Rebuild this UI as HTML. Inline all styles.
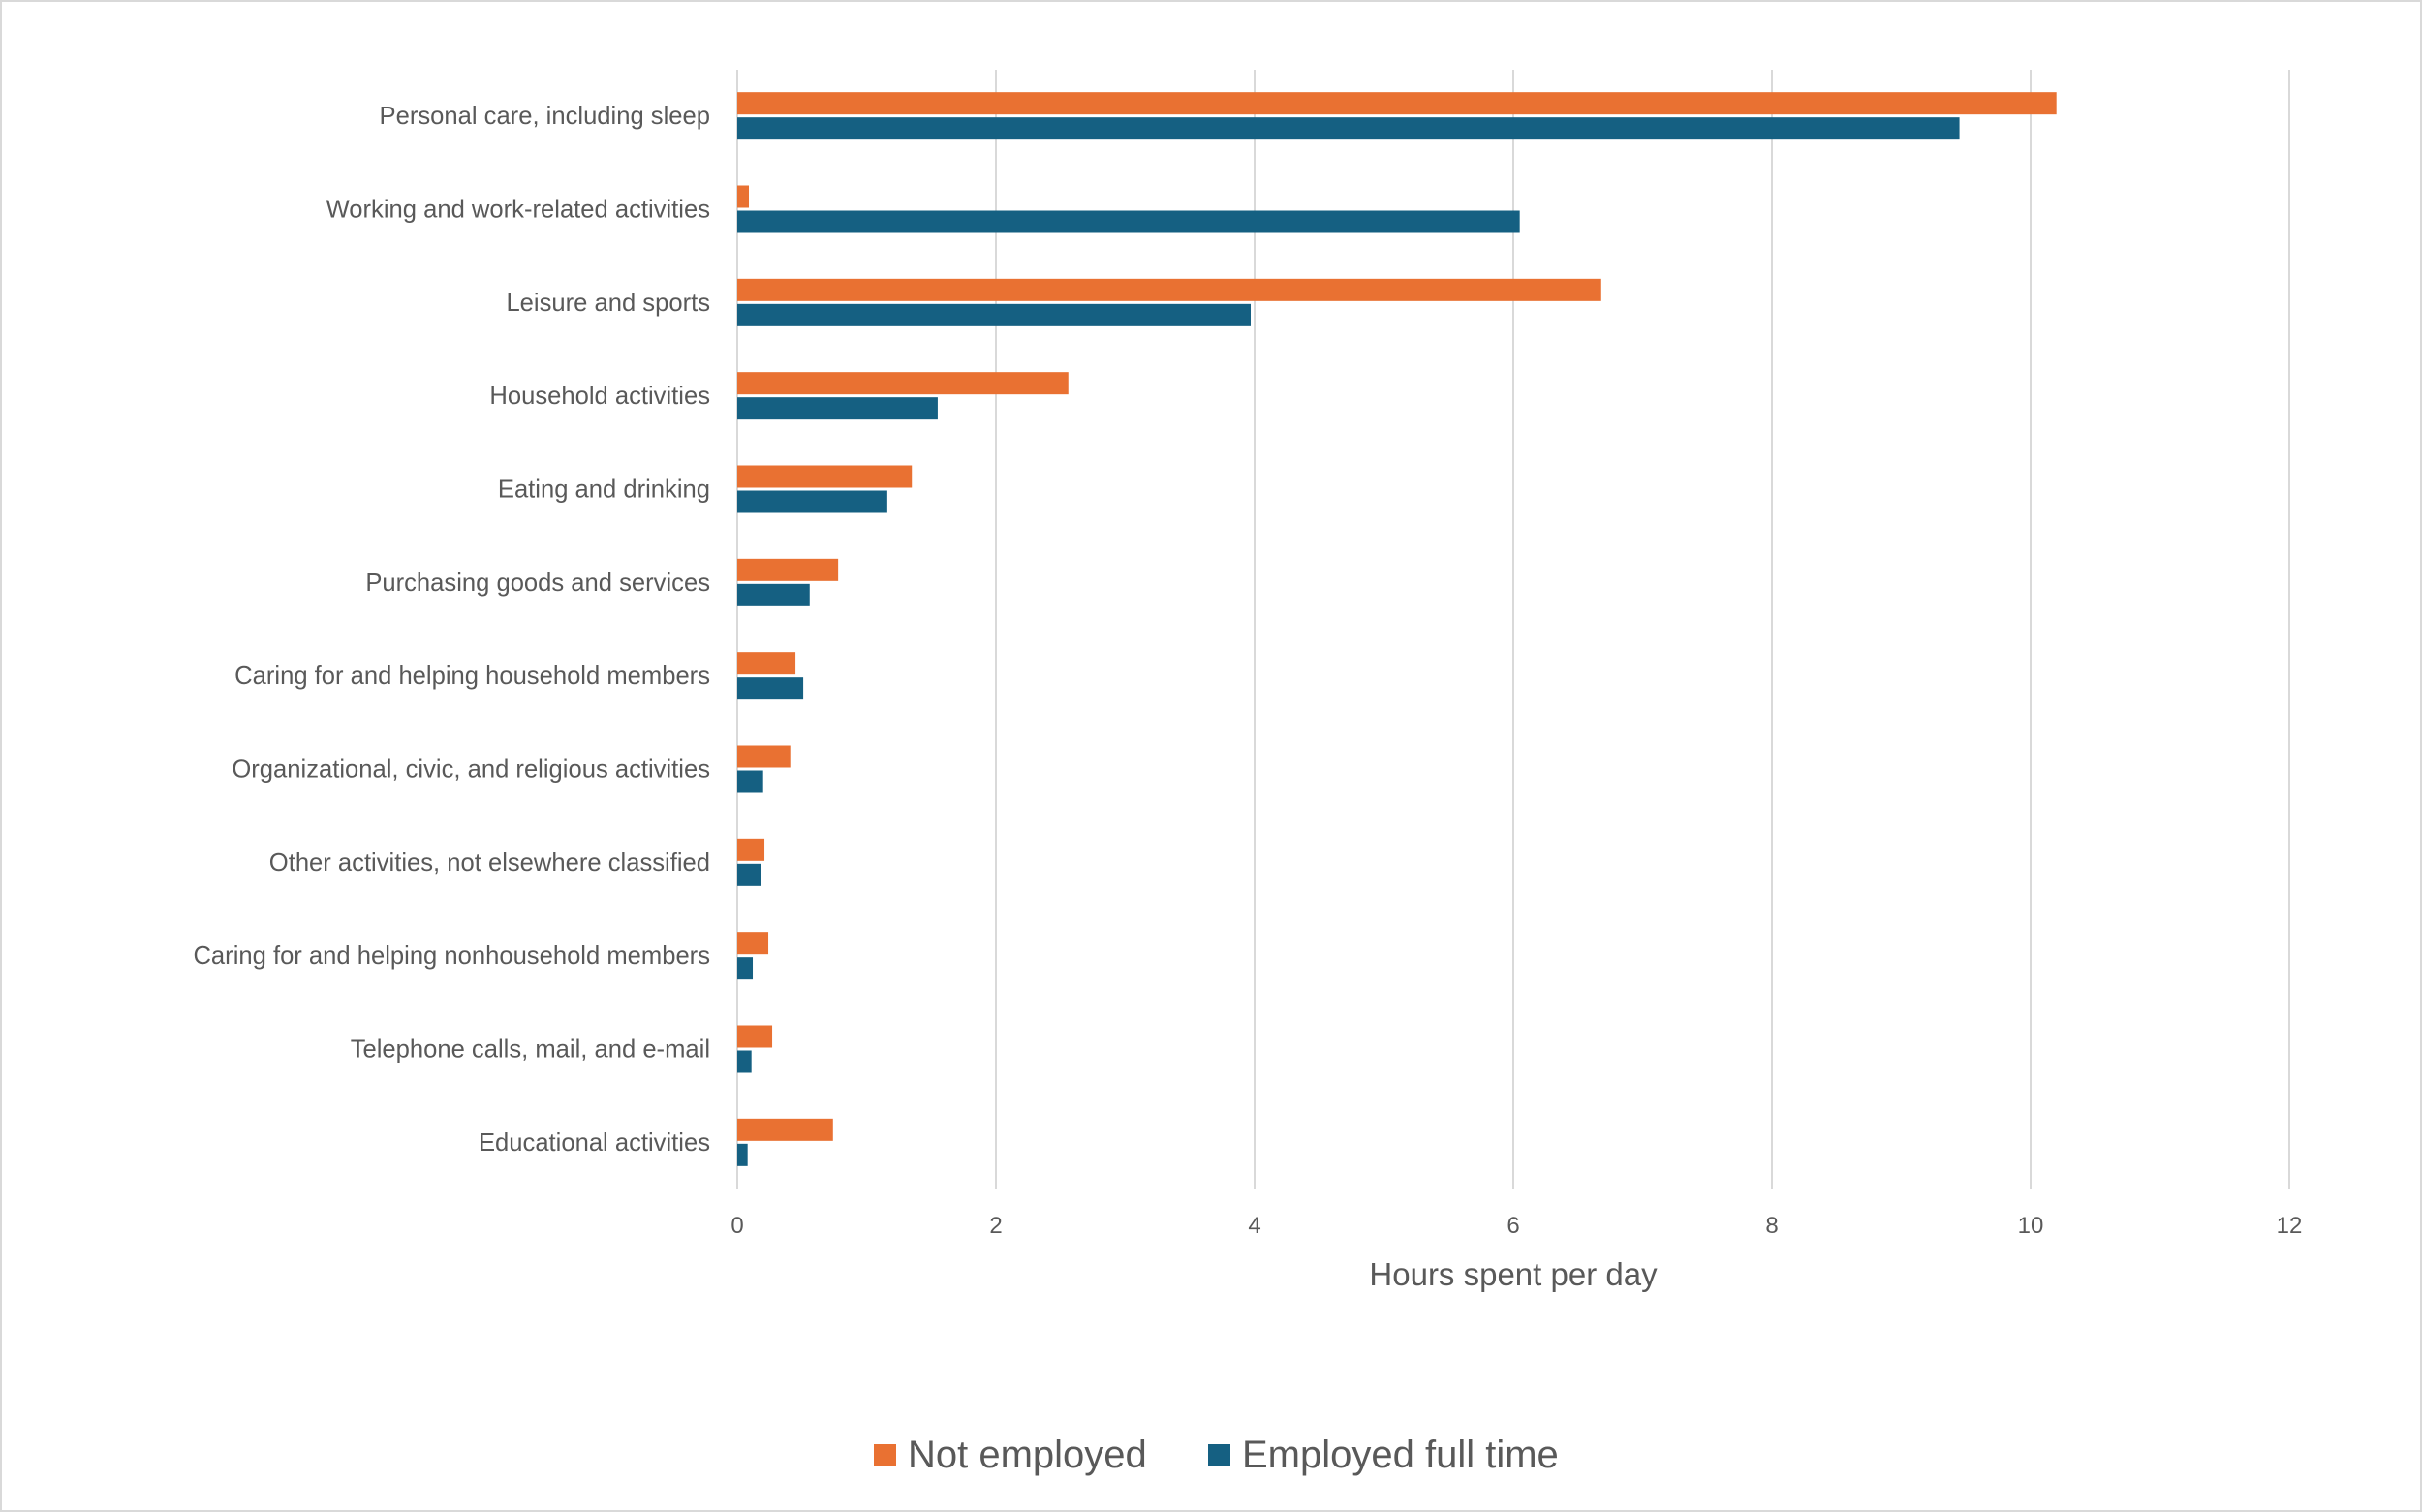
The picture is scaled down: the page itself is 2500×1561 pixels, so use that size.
<!DOCTYPE html>
<html><head><meta charset="utf-8"><style>
html,body{margin:0;padding:0;background:#fff;}
svg{display:block;font-family:"Liberation Sans",sans-serif;}
</style></head><body>
<svg id="chart" width="2500" height="1561" viewBox="0 0 2500 1561">
<rect x="1" y="1" width="2498" height="1559" fill="#fff" stroke="#d9d9d9" stroke-width="2"/>
<g id="grid"></g><g id="bars"></g><g id="labels"></g>
<text x="1562" y="1327" text-anchor="middle" font-size="33" fill="#595959">Hours spent per day</text>
<g>
<rect x="902" y="1491" width="23" height="23" fill="#E97132"/>
<text x="937" y="1515" font-size="40" fill="#595959">Not employed</text>
<rect x="1247" y="1491" width="23" height="23" fill="#156082"/>
<text x="1282" y="1515" font-size="40" fill="#595959">Employed full time</text>
</g>
</svg>
<script>
const categories = ["Personal care, including sleep","Working and work-related activities","Leisure and sports","Household activities","Eating and drinking","Purchasing goods and services","Caring for and helping household members","Organizational, civic, and religious activities","Other activities, not elsewhere classified","Caring for and helping nonhousehold members","Telephone calls, mail, and e-mail","Educational activities"];
const notEmployed = [10.2,0.09,6.68,2.56,1.35,0.78,0.45,0.41,0.21,0.24,0.27,0.74];
const employed = [9.45,6.05,3.97,1.55,1.16,0.56,0.51,0.20,0.18,0.12,0.11,0.08];
const ticks = [0,2,4,6,8,10,12];

const NS="http://www.w3.org/2000/svg";
const X0=761, X1=2363, Y0=72, Y1=1228, XMAX=12;
const x=v=>X0+(X1-X0)*v/XMAX;
const band=(Y1-Y0)/categories.length;
const grid=document.getElementById('grid'), bars=document.getElementById('bars'), labels=document.getElementById('labels');
function mk(tag,attrs,parent){const e=document.createElementNS(NS,tag);for(const k in attrs)e.setAttribute(k,attrs[k]);parent.appendChild(e);return e;}
ticks.forEach(t=>{
  const l=mk('line',{x1:x(t),x2:x(t),y1:Y0,y2:Y1,stroke:'#d9d9d9','stroke-width':2},grid);
  
  
  const tx=mk('text',{x:x(t),y:1273,'text-anchor':'middle','font-size':24,fill:'#595959'},labels);
  tx.textContent=t;
  
  
});
categories.forEach((c,i)=>{
  const cy=Y0+band*i+band/2;
  const r1=mk('rect',{x:x(0),y:cy-25,width:x(notEmployed[i])-x(0),height:23,fill:'#E97132'},bars);
  
  
  const r2=mk('rect',{x:x(0),y:cy+1,width:x(employed[i])-x(0),height:23,fill:'#156082'},bars);
  
  
  const t=mk('text',{x:733,y:cy+8,'text-anchor':'end','font-size':25.6,fill:'#595959'},labels);
  t.textContent=c;
  
  
});
</script>
</body></html>
